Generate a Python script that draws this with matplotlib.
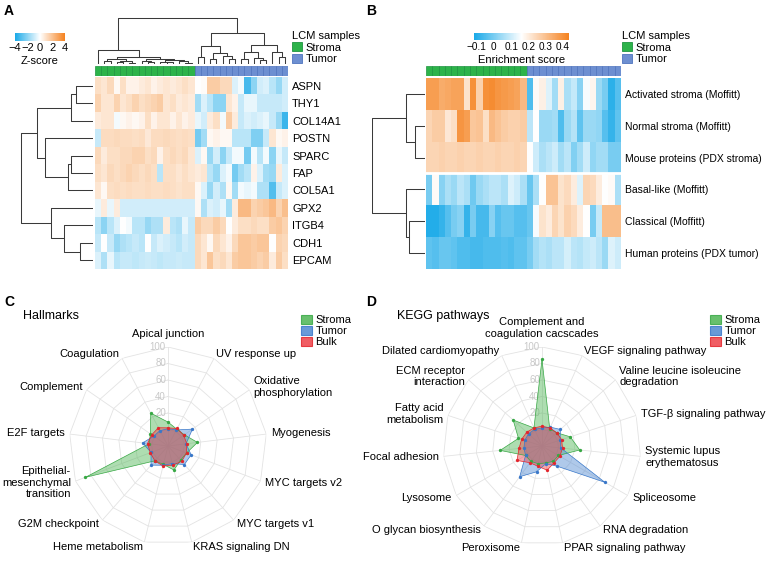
import matplotlib
matplotlib.use("Agg")
import matplotlib.pyplot as plt
import numpy as np
from matplotlib.colors import LinearSegmentedColormap
from matplotlib.patches import Patch

plt.rcParams["font.family"] = ["Liberation Sans", "DejaVu Sans"]
plt.rcParams["font.size"] = 8

W, H = 768, 567

# ---------------- panel A: protein z-scores per LCM sample
sample_group = ["Stroma"] * 16 + ["Tumor"] * 15
genes = ["ASPN", "THY1", "COL14A1", "POSTN", "SPARC", "FAP", "COL5A1",
         "GPX2", "ITGB4", "CDH1", "EPCAM"]
zscore = np.array([
    [1.0, 0.8, 1.2, 0.2, 1.0, 0.4, 0.4, 0.6, 0.8, 0.4, 0.6, 0.8, 0.6, 0.8, 1.0, 0.8,
     0.0, 0.1, 1.6, 1.6, 1.2, 1.2, -0.6, -0.2, -3.2, -2.0, -0.8, -0.6, -1.2, -1.8, -0.8],
    [1.4, 0.8, 0.8, 1.4, 0.8, 1.0, 1.4, 1.0, 1.2, 1.4, 1.6, 0.8, 1.0, 0.6, 0.8, 0.6,
     -1.6, -0.6, -1.2, -2.0, -2.0, 0.8, 0.4, -1.0, -0.4, -0.4, -1.0, -1.0, -1.0, -1.0, -0.8],
    [0.6, 0.8, 0.8, -0.2, 0.2, 0.4, 0.2, 0.4, 1.0, 0.4, 0.8, 0.8, 0.4, 0.8, 0.4, 0.6,
     -0.4, -0.8, 0.6, 1.0, -0.2, 1.6, 0.6, -1.0, -0.6, -0.8, -0.6, -0.4, -1.0, -1.8, -3.4],
    [-1.0, 1.1, 1.1, 1.2, 1.1, 1.1, 1.0, 1.1, 0.7, 1.1, 1.1, 1.2, 1.1, 1.0, 1.1, 1.0,
     -2.4, -1.6, 0.2, 0.4, 0.2, 0.2, -1.2, -1.2, -1.2, -2.2, -2.2, -1.0, 0.8, 0.2, 0.4],
    [1.2, 0.6, 1.0, 1.0, 1.2, 1.2, 1.4, 1.4, 1.0, 1.2, 0.4, 1.0, 1.2, 1.0, 1.2, 0.8,
     -0.6, 0.2, -1.8, -0.8, -2.0, -1.0, -0.2, -0.2, -2.4, -0.2, -1.2, -0.2, -2.0, -0.4, -1.0],
    [1.0, 0.8, 1.2, 1.0, 1.2, 1.4, 1.2, 1.0, 1.2, 1.0, -1.2, 1.0, 1.0, 0.8, 1.0, 0.8,
     0.6, 0.8, -1.2, -1.8, -0.6, -0.2, -2.4, -1.6, -1.2, 0.4, -0.6, -1.6, -1.8, 0.6, -0.6],
    [0.8, 0.2, 1.0, 1.1, 1.0, 1.1, 1.0, 1.0, 1.1, 1.0, 1.0, 1.1, 1.0, 0.9, 1.0, 1.0,
     0.2, -0.6, -1.8, -0.8, -1.4, 0.2, -1.6, -0.2, -0.4, -0.2, -1.4, -1.4, -3.0, -1.0, -0.6],
    [-0.4, 0.6, -0.4, 0.6, -0.8, -0.8, -0.8, -0.8, -0.8, -0.8, -0.8, -0.8, -0.8, -0.8, -0.8, -0.8,
     0.2, -1.4, -0.6, -0.8, -0.4, -1.6, 0.6, 2.2, 2.2, 1.4, 1.6, 1.8, 2.2, 1.4, 2.0],
    [-1.2, -2.0, -1.2, -0.6, 0.0, -0.2, -1.2, -1.2, -1.8, -1.4, -1.4, 0.6, -1.2, -1.4, -0.4, -1.0,
     1.6, 1.2, 1.2, 1.6, 1.2, 0.0, 0.6, 1.0, 1.0, 1.2, 1.0, 1.0, 1.6, 1.8, 1.4],
    [-1.0, 0.0, -1.0, -1.8, -1.4, -1.2, -1.0, -1.2, 0.0, -1.0, -0.6, -0.8, -1.0, -1.2, -0.8, -1.0,
     1.2, 0.8, 0.2, 1.2, 0.8, 0.4, 1.2, 1.8, 1.8, 1.6, 1.8, 1.8, 0.0, 1.4, 1.2],
    [-0.6, -1.4, -0.4, -1.2, -1.0, -1.0, -1.1, -1.0, -0.9, -1.0, -1.1, -1.0, -1.0, -0.9, -1.0, -1.0,
     1.2, 0.8, 1.8, 1.0, 1.2, 0.8, 1.6, 1.8, 1.8, 1.6, 1.4, 1.6, 0.6, 1.6, 1.0],
])
# clustering trees as (height, left, right); leaves are display positions
gene_tree = (218, (170, (65, (50, 0, 1), 2), (145, 3, (75, (67, 4, 5), 6))),
             (127, 7, (87, 8, (40, 9, 10))))
stroma_tree = (43, 0, (20, (14, (8, 1, 2), (10, (6, 3, 4), (4, 5, 6))),
                       (16, (9, 7, (6, 8, 9)), (12, (7, 10, (5, 11, 12)), (8, 13, (4, 14, 15))))))
tumor_tree = (92, (55, (20, 16, 17), (32, (15, 18, 19), (24, 20, (15, 21, 22)))),
              (57, (35, (15, 23, 24), (18, 25, (12, 26, 27))), (35, 28, (20, 29, 30))))
sample_tree = (138, stroma_tree, tumor_tree)

# ---------------- panel B: signature enrichment
signatures = ["Activated stroma (Moffitt)", "Normal stroma (Moffitt)",
              "Mouse proteins (PDX stroma)", "Basal-like (Moffitt)",
              "Classical (Moffitt)", "Human proteins (PDX tumor)"]
enrich = np.array([
    [0.37, 0.37, 0.34, 0.35, 0.36, 0.36, 0.22, 0.40, 0.26, 0.40, 0.41, 0.39, 0.38, 0.37, 0.36, 0.31,
     -0.05, 0.17, 0.19, 0.12, 0.05, 0.19, 0.06, 0.09, 0.02, 0.15, 0.18, 0.04, 0.00, -0.09, -0.04],
    [0.25, 0.27, 0.27, 0.21, 0.23, 0.39, 0.37, 0.28, 0.29, 0.23, 0.31, 0.29, 0.27, 0.26, 0.26, 0.27,
     0.08, 0.16, 0.04, 0.04, 0.05, -0.05, 0.04, 0.07, -0.03, 0.04, 0.04, 0.03, -0.04, -0.08, -0.03],
    [0.25, 0.25, 0.26, 0.25, 0.25, 0.26, 0.25, 0.25, 0.26, 0.25, 0.25, 0.26, 0.25, 0.25, 0.26, 0.25,
     0.16, 0.10, 0.06, 0.08, 0.10, 0.05, 0.08, 0.01, 0.05, 0.10, 0.03, 0.05, 0.05, 0.00, 0.00],
    [0.00, 0.17, 0.02, 0.06, 0.04, 0.08, 0.06, -0.01, 0.04, 0.06, 0.08, 0.08, 0.06, 0.12, 0.10, 0.06,
     -0.02, 0.06, 0.16, 0.29, 0.29, 0.22, 0.24, 0.20, 0.12, 0.25, 0.24, 0.20, 0.16, 0.17, 0.06],
    [-0.10, -0.10, -0.08, -0.04, 0.00, 0.02, -0.08, 0.00, -0.06, -0.06, 0.02, -0.04, -0.02, -0.02, -0.04, -0.04,
     -0.02, 0.15, 0.22, 0.20, 0.25, 0.22, 0.26, 0.24, 0.20, 0.16, 0.00, 0.09, 0.30, 0.30, 0.30],
    [-0.03, -0.04, -0.02, -0.02, -0.03, -0.05, -0.05, -0.06, -0.06, -0.05, -0.05, -0.05, -0.04, -0.05, -0.03, -0.03,
     0.00, 0.05, 0.07, 0.06, 0.08, 0.08, 0.11, 0.08, 0.07, 0.09, 0.10, 0.08, 0.04, 0.12, 0.10],
])
signature_tree = (160, (57, 0, (29, 1, 2)), (57, 3, (47, 4, 5)))

# ---------------- panels C/D: radar scores
hallmarks = ["Apical junction", "UV response up", "Oxidative\nphosphorylation", "Myogenesis",
             "MYC targets v2", "MYC targets v1", "KRAS signaling DN", "Heme metabolism",
             "G2M checkpoint", "Epithelial-\nmesenchymal\ntransition", "E2F targets",
             "Complement", "Coagulation"]
hallmark_stroma = [9, 3, 4, 16, 4, 3, 10, 3, 4, 87, 3, 6, 25]
hallmark_tumor = [1, 2, 16, 2, 10, 10, 2, 4, 11, 2, 11, 1, 1]
hallmark_bulk = [2, 4, 3, 3, 4, 5, 4, 5, 4, 3, 5, 4, 5]

kegg = ["Complement and\ncoagulation cacscades", "VEGF signaling pathway",
        "Valine leucine isoleucine\ndegradation", "TGF-\u03b2 signaling pathway",
        "Systemic lupus\nerythematosus", "Spliceosome", "RNA degradation",
        "PPAR signaling pathway", "Peroxisome", "O glycan biosynthesis", "Lysosome",
        "Focal adhesion", "Fatty acid\nmetabolism", "ECM receptor\ninteraction",
        "Dilated cardiomyopathy"]
kegg_stroma = [85, 3, 4, 16, 26, 3, 3, 1, 2, 3, 3, 31, 10, 27, 4]
kegg_tumor = [2, 5, 10, 3, 3, 68, 10, 2, 12, 26, 3, 2, 2, 2, 2]
kegg_bulk = [4, 4, 4, 5, 5, 5, 5, 10, 5, 5, 15, 8, 6, 5, 4]

GROUP_COLORS = {"Stroma": ("#2DB34A", "#1E9440"), "Tumor": ("#6D8FD1", "#4F74BE")}
RADAR_COLORS = {"Stroma": ("#4DB553", "#38A845"), "Tumor": ("#4F89D2", "#3A78C9"),
                "Bulk": ("#EE4148", "#E3262D")}
LINE = "#3a3a3a"

cmap = LinearSegmentedColormap.from_list("bwo", ["#19A9E8", "#FFFFFF", "#F5821F"])

fig = plt.figure(figsize=(W / 100, H / 100), dpi=100)


def px_axes(x0, y0, x1, y1, **kw):
    return fig.add_axes([x0 / W, 1 - y1 / H, (x1 - x0) / W, (y1 - y0) / H], **kw)


def tree_segments(node):
    segs = []

    def walk(n):
        if isinstance(n, int):
            return float(n), 0.0
        h, left, right = n
        pl, hl = walk(left)
        pr, hr = walk(right)
        segs.append(([pl, pl, pr, pr], [hl, h, h, hr]))
        return (pl + pr) / 2, h

    walk(node)
    return segs


def row_dendrogram(ax, tree, nrows, hmax):
    for pos, hgt in tree_segments(tree):
        ax.plot(hgt, pos, color=LINE, lw=0.75, solid_capstyle="butt")
    ax.set_ylim(nrows - 0.5, -0.5)
    ax.set_xlim(hmax, 0)
    ax.axis("off")


def sample_bar(ax):
    colors = [GROUP_COLORS[g][0] for g in sample_group]
    edges = [GROUP_COLORS[g][1] for g in sample_group]
    ax.bar(np.arange(len(sample_group)), 1, width=1, color=colors, edgecolor=edges, linewidth=0.5)
    ax.set_xlim(-0.5, len(sample_group) - 0.5)
    ax.set_ylim(0, 1)
    ax.axis("off")


def heatmap(ax, data, labels, vmin, vmax, fs):
    im = ax.imshow(data, cmap=cmap, vmin=vmin, vmax=vmax, aspect="auto", interpolation="nearest")
    ax.set_xticks([])
    ax.set_yticks(range(len(labels)))
    ax.set_yticklabels(labels, fontsize=fs)
    ax.yaxis.tick_right()
    ax.tick_params(axis="y", length=0, pad=3)
    for s in ax.spines.values():
        s.set_visible(False)
    return im


def colorbar(im, rect, ticks, ticklabels, label, fs):
    cax = px_axes(*rect)
    cb = fig.colorbar(im, cax=cax, orientation="horizontal", ticks=ticks)
    cb.ax.set_xticklabels(ticklabels)
    cb.outline.set_visible(False)
    cax.tick_params(length=0, pad=1.5, labelsize=fs)
    cb.set_label(label, fontsize=8, labelpad=2)


def sample_legend(x, y):
    handles = [Patch(facecolor=GROUP_COLORS[g][0], edgecolor=GROUP_COLORS[g][1], lw=0.6, label=g)
               for g in ("Stroma", "Tumor")]
    fig.legend(handles=handles, title="LCM samples", loc="upper left",
               bbox_to_anchor=(x / W, 1 - y / H), frameon=False, fontsize=8, title_fontsize=8,
               handlelength=0.9, handleheight=0.85, handletextpad=0.35, labelspacing=0.12,
               borderpad=0, borderaxespad=0, alignment="left")


# ---- A
hm_a = px_axes(95, 77, 288, 269)
im_a = heatmap(hm_a, zscore, genes, -4, 4, 8)
sample_bar(px_axes(95, 66, 288, 76))
top = px_axes(95, 17, 288, 64)
for pos, hgt in tree_segments(sample_tree):
    top.plot(pos, hgt, color=LINE, lw=0.75, solid_capstyle="butt")
top.set_xlim(-0.5, len(sample_group) - 0.5)
top.set_ylim(0, 141)
top.axis("off")
row_dendrogram(px_axes(20, 77, 93, 269), gene_tree, len(genes), 220)
colorbar(im_a, (15, 33, 65, 41), [-4, -2, 0, 2, 4], ["\u22124", "\u22122", "0", "2", "4"],
         "Z-score", 8)
sample_legend(292, 31)

# ---- B
hm_b = px_axes(426, 78, 621, 269)
im_b = heatmap(hm_b, enrich, signatures, -0.115, 0.434, 7.5)
hm_b.axhline(2.5, color="white", lw=2)
sample_bar(px_axes(426, 66, 621, 76))
row_dendrogram(px_axes(372, 78, 425, 269), signature_tree, len(signatures), 160)
colorbar(im_b, (474, 33, 569, 40), [-0.1, 0, 0.1, 0.2, 0.3, 0.4],
         ["\u22120.1", "0", "0.1", "0.2", "0.3", "0.4"], "Enrichment score", 7.2)
sample_legend(622, 31)


# ---- C / D radars
def radar(cx, cy, labels, series, title, legend_x):
    rad = 99
    ax = px_axes(cx - rad, cy - rad, cx + rad, cy + rad, projection="polar")
    ax.set_theta_zero_location("N")
    ax.set_theta_direction(-1)
    ax.set_ylim(-20, 100)
    ax.set_axis_off()
    n = len(labels)
    theta = np.arange(n) * 2 * np.pi / n
    tt = np.append(theta, theta[0])
    grid = "#E3E3E3"
    for lvl in range(0, 101, 20):
        ax.plot(tt, [lvl] * (n + 1), color=grid, lw=0.6, zorder=1)
    for t in theta:
        ax.plot([t, t], [-20, 100], color=grid, lw=0.6, zorder=1)
    for lvl in range(20, 101, 20):
        ax.annotate(str(lvl), (0, lvl), xytext=(-1.5, 0), textcoords="offset points",
                    ha="right", va="center", color="#C8C8C8", fontsize=7, zorder=1)
    for name, vals in series:
        fill, edge = RADAR_COLORS[name]
        vv = np.append(vals, vals[0])
        ax.fill(tt, vv, color=fill, alpha=0.45, lw=0, zorder=2)
        ax.plot(tt, vv, color=edge, lw=0.5, zorder=3)
        ax.plot(theta, vals, "o", ms=2.4, color=edge, mec="none", zorder=4)
    for t, lab in zip(theta, labels):
        ang = np.degrees(t)
        if np.isclose(ang, 0):
            ha, va, r = "center", "bottom", 110
        else:
            ha = "left" if ang < 180 else "right"
            va, r = "center", 106
        ax.text(t, r, lab, ha=ha, va=va, multialignment=ha, fontsize=8, linespacing=1.2)
    fig.text((cx - 145) / W, 1 - 316 / H, title, fontsize=9, ha="left", va="center")
    handles = [Patch(facecolor=RADAR_COLORS[nm][0], edgecolor=RADAR_COLORS[nm][1],
                     alpha=0.85, lw=0.8, label=nm) for nm, _ in series]
    fig.legend(handles=handles, loc="upper left", bbox_to_anchor=(legend_x / W, 1 - 315 / H),
               frameon=False, fontsize=8, handlelength=1.0, handleheight=0.9,
               handletextpad=0.3, labelspacing=0.05, borderpad=0, borderaxespad=0)


radar(168, 446, hallmarks,
      [("Stroma", hallmark_stroma), ("Tumor", hallmark_tumor), ("Bulk", hallmark_bulk)],
      "Hallmarks", 301)
radar(542, 446, kegg,
      [("Stroma", kegg_stroma), ("Tumor", kegg_tumor), ("Bulk", kegg_bulk)],
      "KEGG pathways", 710)

for letter, x, y in (("A", 4, 11), ("B", 366, 11), ("C", 4, 302), ("D", 366, 302)):
    fig.text(x / W, 1 - y / H, letter, fontsize=10, fontweight="bold", ha="left", va="center")

fig.savefig("out.png", dpi=100)
